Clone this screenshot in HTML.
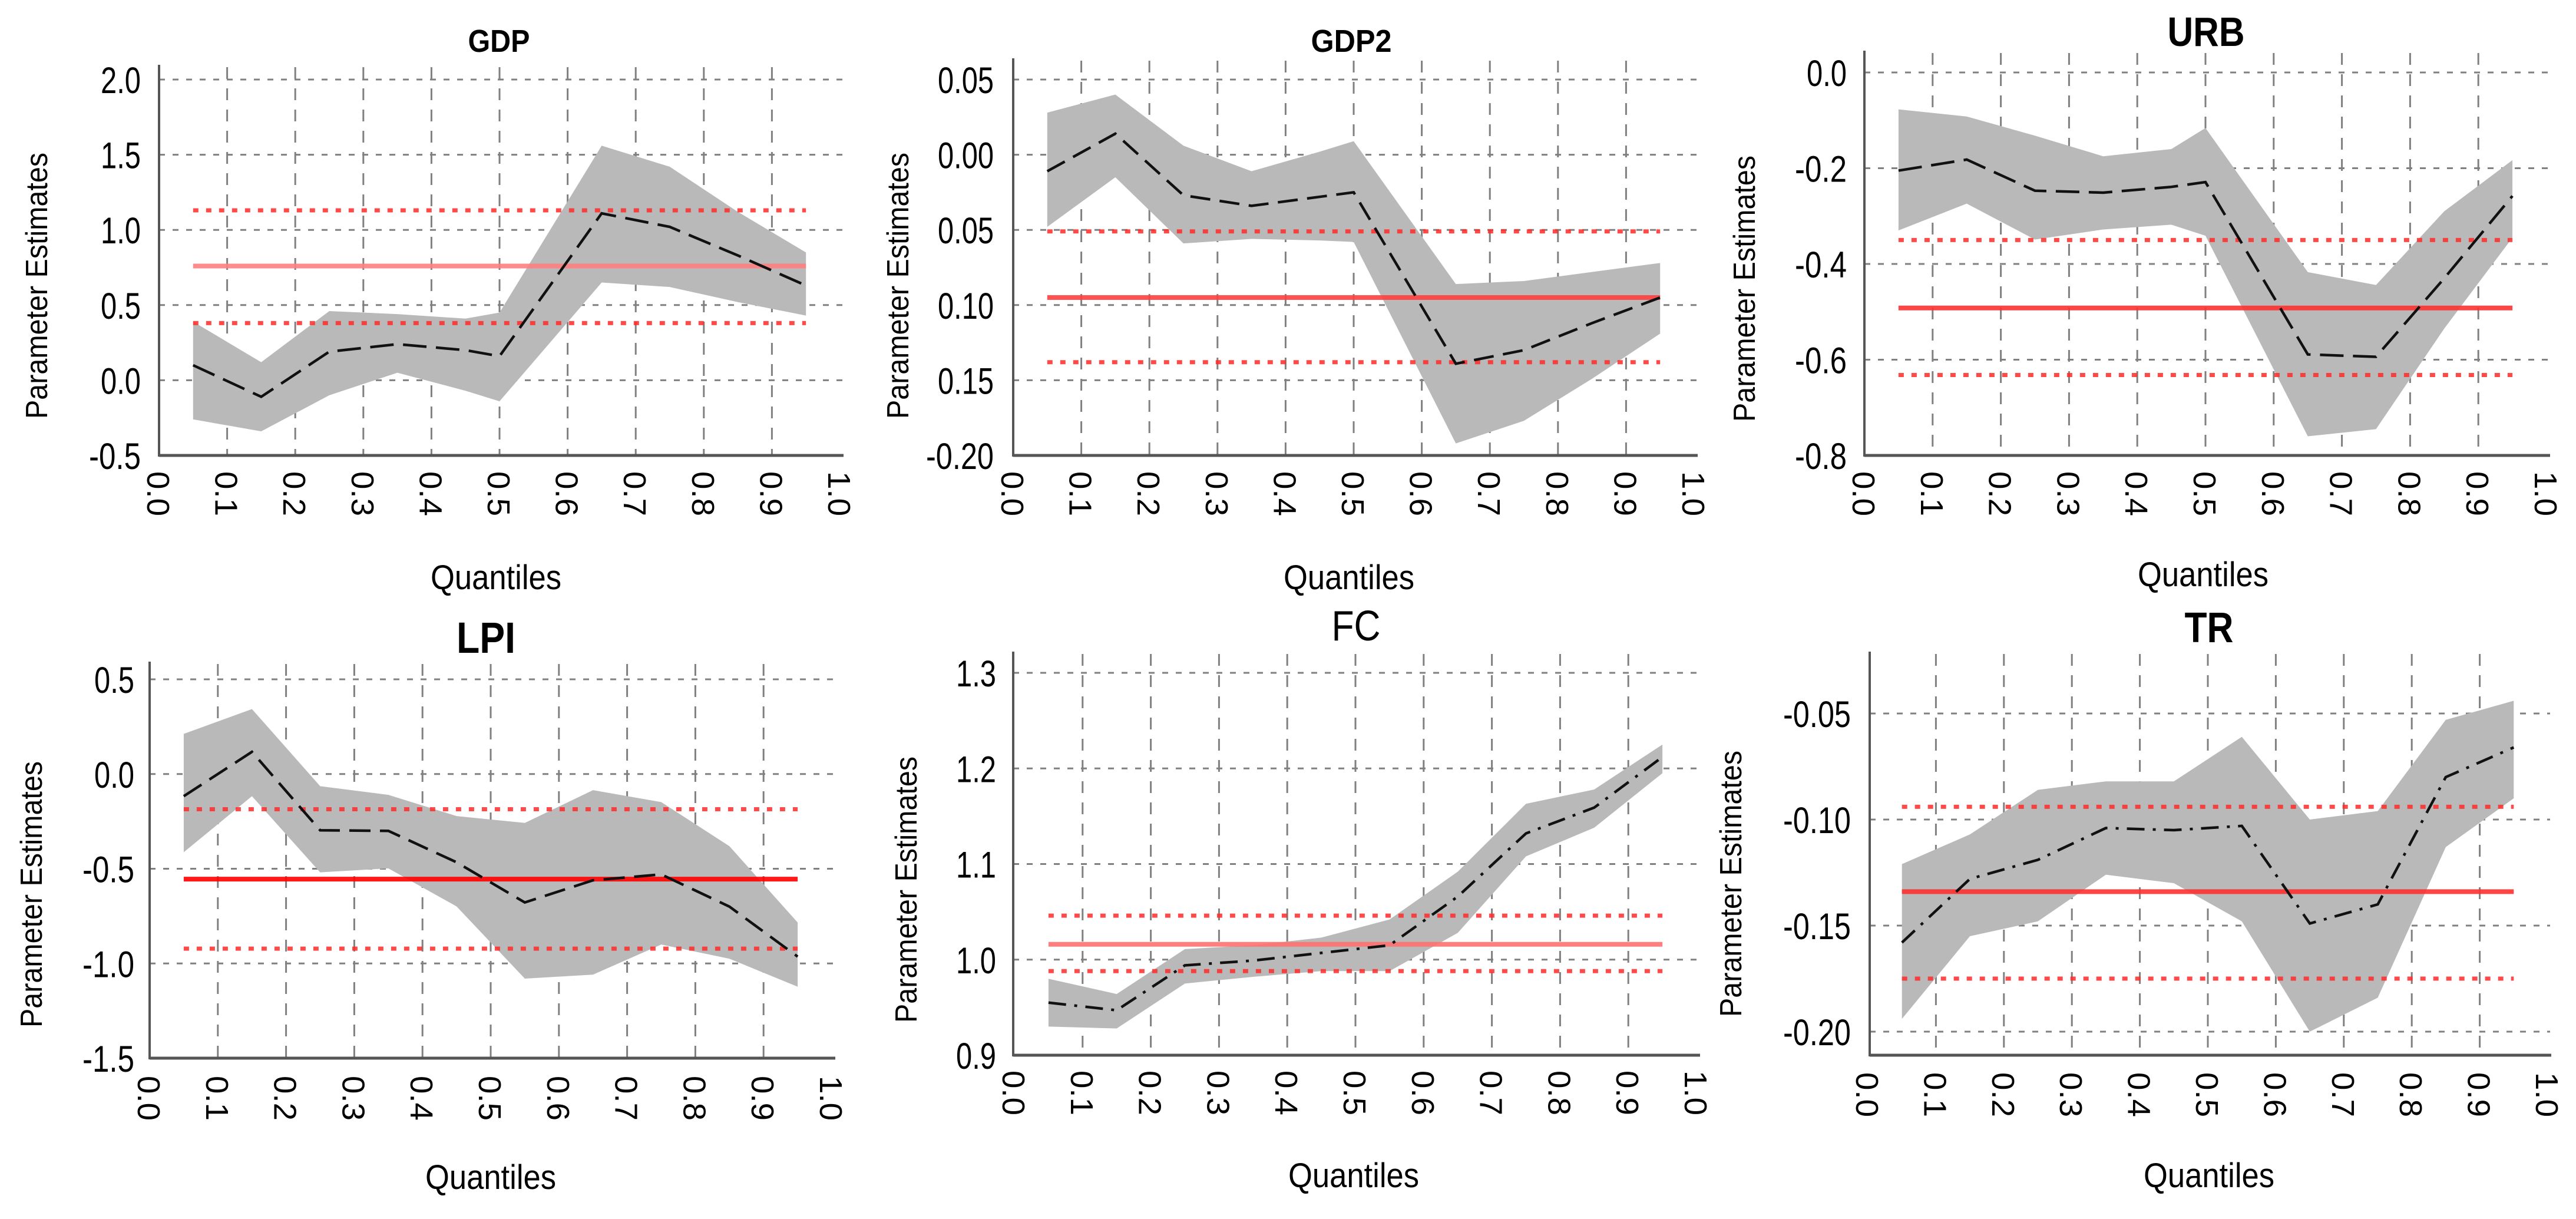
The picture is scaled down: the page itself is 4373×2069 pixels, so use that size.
<!DOCTYPE html>
<html><head><meta charset="utf-8">
<style>
html,body{margin:0;padding:0;background:#fff;}
svg{display:block;}
text{font-family:"Liberation Sans Narrow","Liberation Sans",sans-serif;fill:#000;}
</style></head>
<body>
<svg id="fig" width="4373" height="2069" viewBox="0 0 4373 2069" xmlns="http://www.w3.org/2000/svg">
<rect x="0" y="0" width="4373" height="2069" fill="#fff"/>
</svg>
<script>
// ---- data ----
const xTickLabels = ["0.0","0.1","0.2","0.3","0.4","0.5","0.6","0.7","0.8","0.9","1.0"];

const gdpQ    = [0.05,0.15,0.25,0.35,0.45,0.5,0.65,0.75,0.85,0.95];
const gdpEst  = [0.10,-0.11,0.19,0.24,0.20,0.16,1.11,1.02,0.83,0.63];
const gdpUp   = [0.39,0.12,0.46,0.44,0.41,0.45,1.56,1.42,1.12,0.85];
const gdpLo   = [-0.26,-0.34,-0.10,0.05,-0.07,-0.14,0.65,0.62,0.52,0.43];
const gdpOls  = [0.76,1.13,0.38];
const gdpTicks = [2.0,1.5,1.0,0.5,0.0,-0.5];
const gdpTickLabels = ["2.0","1.5","1.0","0.5","0.0","-0.5"];

const gdp2Q   = [0.05,0.15,0.25,0.35,0.45,0.5,0.65,0.75,0.85,0.95];
const gdp2Est = [-0.011,0.014,-0.027,-0.034,-0.028,-0.025,-0.139,-0.130,-0.112,-0.095];
const gdp2Up  = [0.028,0.040,0.006,-0.011,0.002,0.009,-0.086,-0.084,-0.078,-0.072];
const gdp2Lo  = [-0.048,-0.015,-0.059,-0.056,-0.057,-0.058,-0.192,-0.177,-0.149,-0.119];
const gdp2Ols = [-0.095,-0.051,-0.138];
const gdp2Ticks = [0.05,0.0,-0.05,-0.10,-0.15,-0.20];
const gdp2TickLabels = ["0.05","0.00","0.05","0.10","0.15","-0.20"];

const urbQ    = [0.05,0.15,0.25,0.35,0.45,0.5,0.65,0.75,0.85,0.95];
const urbEst  = [-0.205,-0.182,-0.247,-0.251,-0.239,-0.229,-0.589,-0.594,-0.43,-0.258];
const urbUp   = [-0.077,-0.092,-0.132,-0.175,-0.160,-0.116,-0.417,-0.444,-0.29,-0.183];
const urbLo   = [-0.33,-0.274,-0.349,-0.328,-0.318,-0.341,-0.760,-0.745,-0.535,-0.345];
const urbOls  = [-0.492,-0.350,-0.632];
const urbTicks = [0.0,-0.2,-0.4,-0.6,-0.8];
const urbTickLabels = ["0.0","-0.2","-0.4","-0.6","-0.8"];

const lpiQ    = [0.05,0.15,0.25,0.35,0.45,0.55,0.65,0.75,0.85,0.95];
const lpiEst  = [-0.117,0.117,-0.297,-0.30,-0.466,-0.678,-0.561,-0.53,-0.70,-0.964];
const lpiUp   = [0.212,0.343,-0.064,-0.110,-0.222,-0.258,-0.085,-0.148,-0.381,-0.784];
const lpiLo   = [-0.413,-0.117,-0.519,-0.498,-0.699,-1.08,-1.059,-0.90,-0.975,-1.123];
const lpiOls  = [-0.555,-0.186,-0.922];
const lpiTicks = [0.5,0.0,-0.5,-1.0,-1.5];
const lpiTickLabels = ["0.5","0.0","-0.5","-1.0","-1.5"];

const fcQ     = [0.05,0.15,0.25,0.35,0.45,0.55,0.65,0.75,0.85,0.95];
const fcEst   = [0.955,0.947,0.994,0.999,1.007,1.015,1.066,1.132,1.159,1.212];
const fcUp    = [0.98,0.964,1.011,1.015,1.023,1.042,1.092,1.163,1.178,1.225];
const fcLo    = [0.930,0.928,0.975,0.982,0.988,0.988,1.028,1.108,1.138,1.195];
const fcOls   = [1.016,1.046,0.988];
const fcTicks = [1.3,1.2,1.1,1.0,0.9];
const fcTickLabels = ["1.3","1.2","1.1","1.0","0.9"];

const trQ     = [0.05,0.15,0.25,0.35,0.45,0.55,0.65,0.75,0.85,0.95];
const trEst   = [-0.158,-0.128,-0.119,-0.104,-0.105,-0.103,-0.149,-0.140,-0.080,-0.066];
const trUp    = [-0.121,-0.107,-0.086,-0.082,-0.082,-0.061,-0.100,-0.096,-0.053,-0.044];
const trLo    = [-0.194,-0.155,-0.148,-0.126,-0.130,-0.148,-0.200,-0.184,-0.113,-0.090];
const trOls   = [-0.134,-0.094,-0.175];
const trTicks = [-0.05,-0.10,-0.15,-0.20];
const trTickLabels = ["-0.05","-0.10","-0.15","-0.20"];

// ---- layout (pixels) ----
const panels = [
 {id:"gdp",title:"GDP",tSize:54,tLen:105,bold:true,tx:847,ty:88,q:gdpQ,est:gdpEst,up:gdpUp,lo:gdpLo,ols:gdpOls,ticks:gdpTicks,tl:gdpTickLabels,
  x0:270,x1:1426,axX:270,vA:2.0,pA:135,vB:-0.5,pB:773,axTop:110,axBot:773,ylabX:62,ylabY:485,tickR:239,xtY:800,qY:1000,qX:842,meanCol:"#ff7f7f",dash:"40,16"},
 {id:"gdp2",title:"GDP2",tSize:54,tLen:137,bold:true,tx:2294,ty:88,q:gdp2Q,est:gdp2Est,up:gdp2Up,lo:gdp2Lo,ols:gdp2Ols,ticks:gdp2Ticks,tl:gdp2TickLabels,
  x0:1720,x1:2876,axX:1720,vA:0.05,pA:135,vB:-0.20,pB:773,axTop:99,axBot:773,ylabX:1524,ylabY:485,tickR:1687,xtY:800,qY:1000,qX:2290,meanCol:"#ff4040",dash:"34,16"},
 {id:"urb",title:"URB",tSize:70,tLen:131,bold:true,tx:3745,ty:78,q:urbQ,est:urbEst,up:urbUp,lo:urbLo,ols:urbOls,ticks:urbTicks,tl:urbTickLabels,
  x0:3165,x1:4323,axX:3165,vA:0.0,pA:123,vB:-0.8,pB:773,axTop:86,axBot:773,ylabX:2961,ylabY:490,tickR:3135,xtY:800,qY:995,qX:3740,meanCol:"#ff3030",dash:"40,16"},
 {id:"lpi",title:"LPI",tSize:74,tLen:100,bold:true,tx:825,ty:1108,q:lpiQ,est:lpiEst,up:lpiUp,lo:lpiLo,ols:lpiOls,ticks:lpiTicks,tl:lpiTickLabels,
  x0:254,x1:1412,axX:254,vA:0.5,pA:1153,vB:-1.5,pB:1796,axTop:1123,axBot:1796,ylabX:53,ylabY:1518,tickR:228,xtY:1826,qY:2018,qX:833,meanCol:"#ff0000",dash:"36,16"},
 {id:"fc",title:"FC",tSize:72,tLen:83,bold:false,tx:2302,ty:1087,q:fcQ,est:fcEst,up:fcUp,lo:fcLo,ols:fcOls,ticks:fcTicks,tl:fcTickLabels,
  x0:1722,x1:2880,axX:1720,vA:1.3,pA:1142,vB:0.9,pB:1791,axTop:1106,axBot:1791,ylabX:1538,ylabY:1510,tickR:1691,xtY:1817,qY:2015,qX:2298,meanCol:"#ff7070",dash:"30,14,5,14"},
 {id:"tr",title:"TR",tSize:72,tLen:83,bold:true,tx:3750,ty:1090,q:trQ,est:trEst,up:trUp,lo:trLo,ols:trOls,ticks:trTicks,tl:trTickLabels,
  x0:3171,x1:4325,axX:3174,vA:-0.05,pA:1211,vB:-0.20,pB:1751,axTop:1106,axBot:1791,ylabX:2938,ylabY:1500,tickR:3142,xtY:1820,qY:2015,qX:3750,meanCol:"#ff3030",dash:"30,14,5,14"}
];

function labelLen(s){let w=0;for(const c of s){w+= c==='.'?14:(c==='-'?20:27);}return w;}

const NS="http://www.w3.org/2000/svg";
const svg=document.getElementById("fig");
function mk(tag,attrs,parent){const e=document.createElementNS(NS,tag);for(const k in attrs)e.setAttribute(k,attrs[k]);(parent||svg).appendChild(e);return e;}

panels.forEach(p=>{
  const g=mk("g",{});
  
  
  const X=q=>p.x0+q*(p.x1-p.x0);
  const Y=v=>p.pA+(v-p.vA)*(p.pB-p.pA)/(p.vB-p.vA);

  p.ticks.forEach(t=>{
    const y=Y(t);
    if(y<p.axBot-6){
      const l=mk("line",{x1:p.axX,x2:p.x1+4,y1:y,y2:y,stroke:"#808080","stroke-width":3,"stroke-dasharray":"10,13"},g);
      
      
    }
  });
  for(let i=1;i<=9;i++){
    const x=X(i/10);
    const l=mk("line",{x1:x,x2:x,y1:p.axTop+4,y2:p.axBot,stroke:"#808080","stroke-width":3,"stroke-dasharray":"20,16"},g);
    
    
  }

  let pts=[];
  p.q.forEach((q,i)=>pts.push(X(q)+","+Y(p.up[i])));
  for(let i=p.q.length-1;i>=0;i--)pts.push(X(p.q[i])+","+Y(p.lo[i]));
  const band=mk("polygon",{points:pts.join(" "),fill:"#b9b9b9"},g);
  
  

  const qa=0.05,qb=0.95;
  const ciHi=mk("line",{x1:X(qa),x2:X(qb),y1:Y(p.ols[1]),y2:Y(p.ols[1]),stroke:"#ff2a2a","stroke-width":7,"stroke-dasharray":"9,13","stroke-opacity":0.85},g);
  
  
  const ciLo=mk("line",{x1:X(qa),x2:X(qb),y1:Y(p.ols[2]),y2:Y(p.ols[2]),stroke:"#ff2a2a","stroke-width":7,"stroke-dasharray":"9,13","stroke-opacity":0.85},g);
  
  
  const mean=mk("line",{x1:X(qa),x2:X(qb),y1:Y(p.ols[0]),y2:Y(p.ols[0]),stroke:p.meanCol,"stroke-width":8,"stroke-opacity":0.9},g);
  
  

  const lp=p.q.map((q,i)=>X(q)+","+Y(p.est[i])).join(" ");
  const est=mk("polyline",{points:lp,fill:"none",stroke:"#111","stroke-width":4.5,"stroke-dasharray":p.dash},g);
  
  

  const ya=mk("line",{x1:p.axX,x2:p.axX,y1:p.axTop,y2:p.axBot+2,stroke:"#555","stroke-width":4},g);
  
  
  const xa=mk("line",{x1:p.axX,x2:p.x1+6,y1:p.axBot,y2:p.axBot,stroke:"#555","stroke-width":5},g);
  
  

  p.ticks.forEach((t,i)=>{
    const tx=mk("text",{x:p.tickR,y:Y(t)+23,"text-anchor":"end","font-size":63,textLength:labelLen(p.tl[i]),lengthAdjust:"spacingAndGlyphs"},g);
    tx.textContent=p.tl[i];
    
    
  });
  xTickLabels.forEach((s,i)=>{
    const x=X(i/10);
    const tx=mk("text",{x:0,y:0,"font-size":54,transform:`translate(${x-20},${p.xtY}) rotate(90)`,textLength:76,lengthAdjust:"spacingAndGlyphs"},g);
    tx.textContent=s;
    
    
  });

  const tt=mk("text",{x:p.tx,y:p.ty,"text-anchor":"middle","font-size":p.tSize,"font-weight":p.bold?"bold":"normal",textLength:p.tLen,lengthAdjust:"spacingAndGlyphs"},g);
  tt.textContent=p.title;
  
  
  const yl=mk("text",{x:0,y:0,"text-anchor":"middle","font-size":52,transform:`translate(${p.ylabX+18},${p.ylabY}) rotate(-90)`,textLength:452,lengthAdjust:"spacingAndGlyphs"},g);
  yl.textContent="Parameter Estimates";
  
  
  const xl=mk("text",{x:p.qX,y:p.qY,"text-anchor":"middle","font-size":58,textLength:222,lengthAdjust:"spacingAndGlyphs"},g);
  xl.textContent="Quantiles";
  
  
});
</script>
</body></html>
